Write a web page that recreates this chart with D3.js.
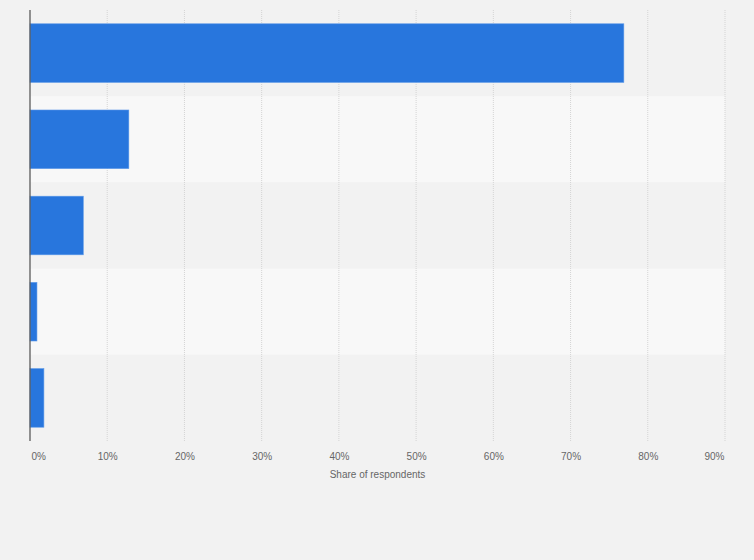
<!DOCTYPE html>
<html>
<head>
<meta charset="utf-8">
<script src="https://cdn.jsdelivr.net/npm/d3@7"></script>
<style>
html,body{margin:0;padding:0;background:#f2f2f2;}
svg{display:block;}
text{font-family:"Liberation Sans",Arial,sans-serif;}
</style>
</head>
<body>
<svg id="chart" width="754" height="560"></svg>
<script>
const categories = ["A", "B", "C", "D", "E"];
const values = [76.9, 12.8, 6.9, 0.9, 1.8];
const tickValues = [0, 10, 20, 30, 40, 50, 60, 70, 80, 90];
const tickLabels = ["0%", "10%", "20%", "30%", "40%", "50%", "60%", "70%", "80%", "90%"];
const axisTitle = "Share of respondents";

const svg = d3.select("#chart");
const W = 754, H = 560;
const m = {left: 30, right: 29, top: 10, bottom: 119};
const iw = W - m.left - m.right, ih = H - m.top - m.bottom;

svg.append("rect").attr("width", W).attr("height", H).attr("fill", "#f2f2f2");

const x = d3.scaleLinear().domain([0, 90]).range([0, iw]);
const yBand = d3.scaleBand().domain(categories).range([0, ih]).padding(0);
const y = d3.scaleBand().domain(categories).range([0, ih]).paddingInner(0.32).paddingOuter(0.16);

const g = svg.append("g").attr("transform", `translate(${m.left},${m.top})`);

// alternating bands
g.selectAll("rect.band").data(categories).enter().append("rect")
  .attr("class", "band")
  .attr("x", 0).attr("y", d => yBand(d))
  .attr("width", iw).attr("height", yBand.bandwidth())
  .attr("fill", (d, i) => i % 2 === 0 ? "#f2f2f2" : "#f8f8f8");

// gridlines
g.selectAll("line.grid").data(tickValues.slice(1)).enter().append("line")
  .attr("class", "grid")
  .attr("x1", d => x(d)).attr("x2", d => x(d))
  .attr("y1", 0).attr("y2", ih)
  .attr("stroke", "#d4d4d4").attr("stroke-width", 1)
  .attr("stroke-dasharray", "1,1");

// bars
g.selectAll("rect.bar").data(values).enter().append("rect")
  .attr("class", "bar")
  .attr("x", x(0)).attr("y", (d, i) => y(categories[i]))
  .attr("width", d => x(d) - x(0)).attr("height", y.bandwidth())
  .attr("fill", "#2876dd")
  .attr("stroke", "#5d99e8").attr("stroke-width", 0.6);

// y axis line
g.append("line").attr("x1", 0).attr("x2", 0).attr("y1", 0).attr("y2", ih)
  .attr("stroke", "#5a5a5a").attr("stroke-width", 1.3);

// x axis labels
const xAxis = d3.axisBottom(x).tickValues(tickValues)
  .tickFormat((d, i) => tickLabels[i]).tickSize(0).tickPadding(0);
const ax = g.append("g").attr("transform", `translate(0,${ih})`).call(xAxis);
ax.select(".domain").remove();
ax.selectAll("text")
  .attr("y", 19).attr("dy", 0)
  .attr("fill", "#666").style("font-size", "10px")
  .attr("text-anchor", (d, i) => i === 0 ? "start" : (i === tickValues.length - 1 ? "end" : "middle"))
  .attr("x", (d, i) => i === 0 ? 1 : (i === tickValues.length - 1 ? -1 : 0));

// axis title
g.append("text").attr("x", iw / 2).attr("y", ih + 37)
  .attr("text-anchor", "middle").attr("fill", "#666")
  .style("font-size", "10px").text(axisTitle);
</script>
</body>
</html>
